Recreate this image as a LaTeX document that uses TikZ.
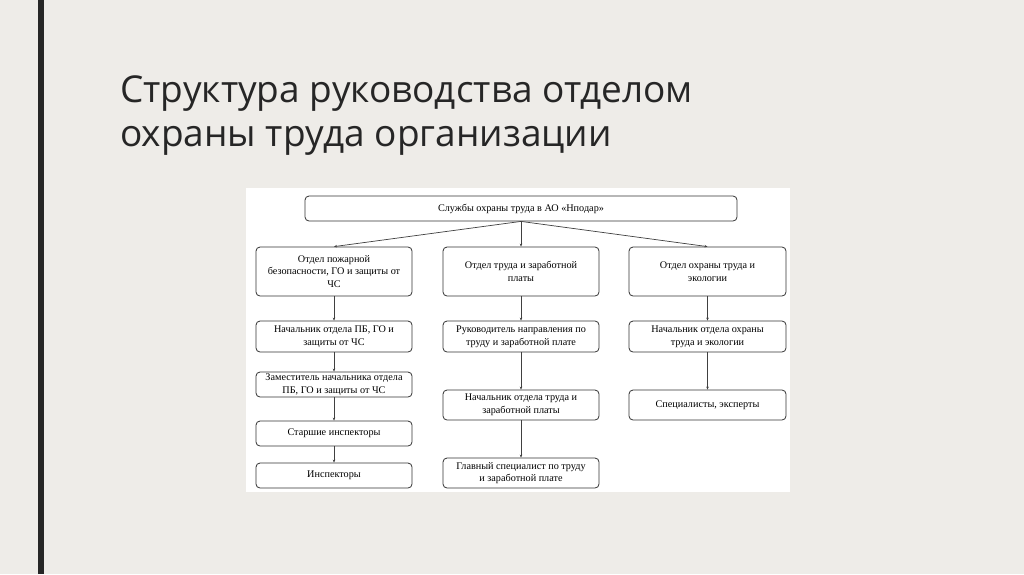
\documentclass[tikz,border=0pt]{standalone}
\usepackage{fontspec}
\usetikzlibrary{arrows.meta}
\setmainfont{Liberation Serif}
\newfontfamily\titlefont{Open Sans}
\begin{document}
\begin{tikzpicture}[x=1pt,y=-1pt,
  bx/.style={draw=black!80,line width=0.8pt,rounded corners=4pt,fill=white,align=center,font=\fontsize{10.2}{12.6}\selectfont,inner sep=1pt},
  ar/.style={draw=black!75,line width=0.7pt,-{Stealth[length=3pt,width=2.5pt]}}]
\useasboundingbox (0,0) rectangle (1024,574);
\fill[fill={rgb,255:red,238;green,236;blue,232}] (0,0) rectangle (1024,574);
\fill[black!85] (38,0) rectangle (44,574);
\node[anchor=west,align=left,font=\titlefont\fontsize{37}{44}\selectfont,text=black!85,inner sep=0] (title) at (120,116) {Структура руководства отделом\\охраны труда организации};
\fill[white] (246,188) rectangle (790,492);
\newcommand\bxat[6]{\node[bx,minimum width=#4-#2,minimum height=#5-#3] (#1) at ({(#2+#4)/2},{(#3+#5)/2}) {#6};}
\bxat{top}{305}{196}{737}{221}{Службы охраны труда в АО «Нподар»}
\bxat{l1}{256}{247}{412}{296}{Отдел пожарной\\безопасности, ГО и защиты от\\ЧС}
\bxat{m1}{443}{247}{599}{296}{Отдел труда и заработной\\платы}
\bxat{r1}{629}{247}{786}{296}{Отдел охраны труда и\\экологии}
\bxat{l2}{256}{321}{412}{352}{Начальник отдела ПБ, ГО и\\защиты от ЧС}
\bxat{l3}{256}{372}{412}{397}{Заместитель начальника отдела\\ПБ, ГО и защиты от ЧС}
\bxat{l4}{256}{421}{412}{446}{Старшие инспекторы}
\bxat{l5}{256}{463}{412}{488}{Инспекторы}
\bxat{m2}{443}{321}{599}{352}{Руководитель направления по\\труду и заработной плате}
\bxat{m3}{443}{390}{599}{420}{Начальник отдела труда и\\заработной платы}
\bxat{m4}{443}{458}{599}{488}{Главный специалист по труду\\и заработной плате}
\bxat{r2}{629}{321}{786}{352}{Начальник отдела охраны\\труда и экологии}
\bxat{r3}{629}{390}{786}{420}{Специалисты, эксперты}
\coordinate (tb) at (top.south);
\draw[ar] (tb) -- (l1.north);
\draw[ar] (tb) -- (m1.north);
\draw[ar] (tb) -- (r1.north);
\foreach \a/\b in {l1/l2,l2/l3,l3/l4,l4/l5,m1/m2,m2/m3,m3/m4,r1/r2,r2/r3}
  \draw[ar] (\a) -- (\b);
\end{tikzpicture}
\end{document}
